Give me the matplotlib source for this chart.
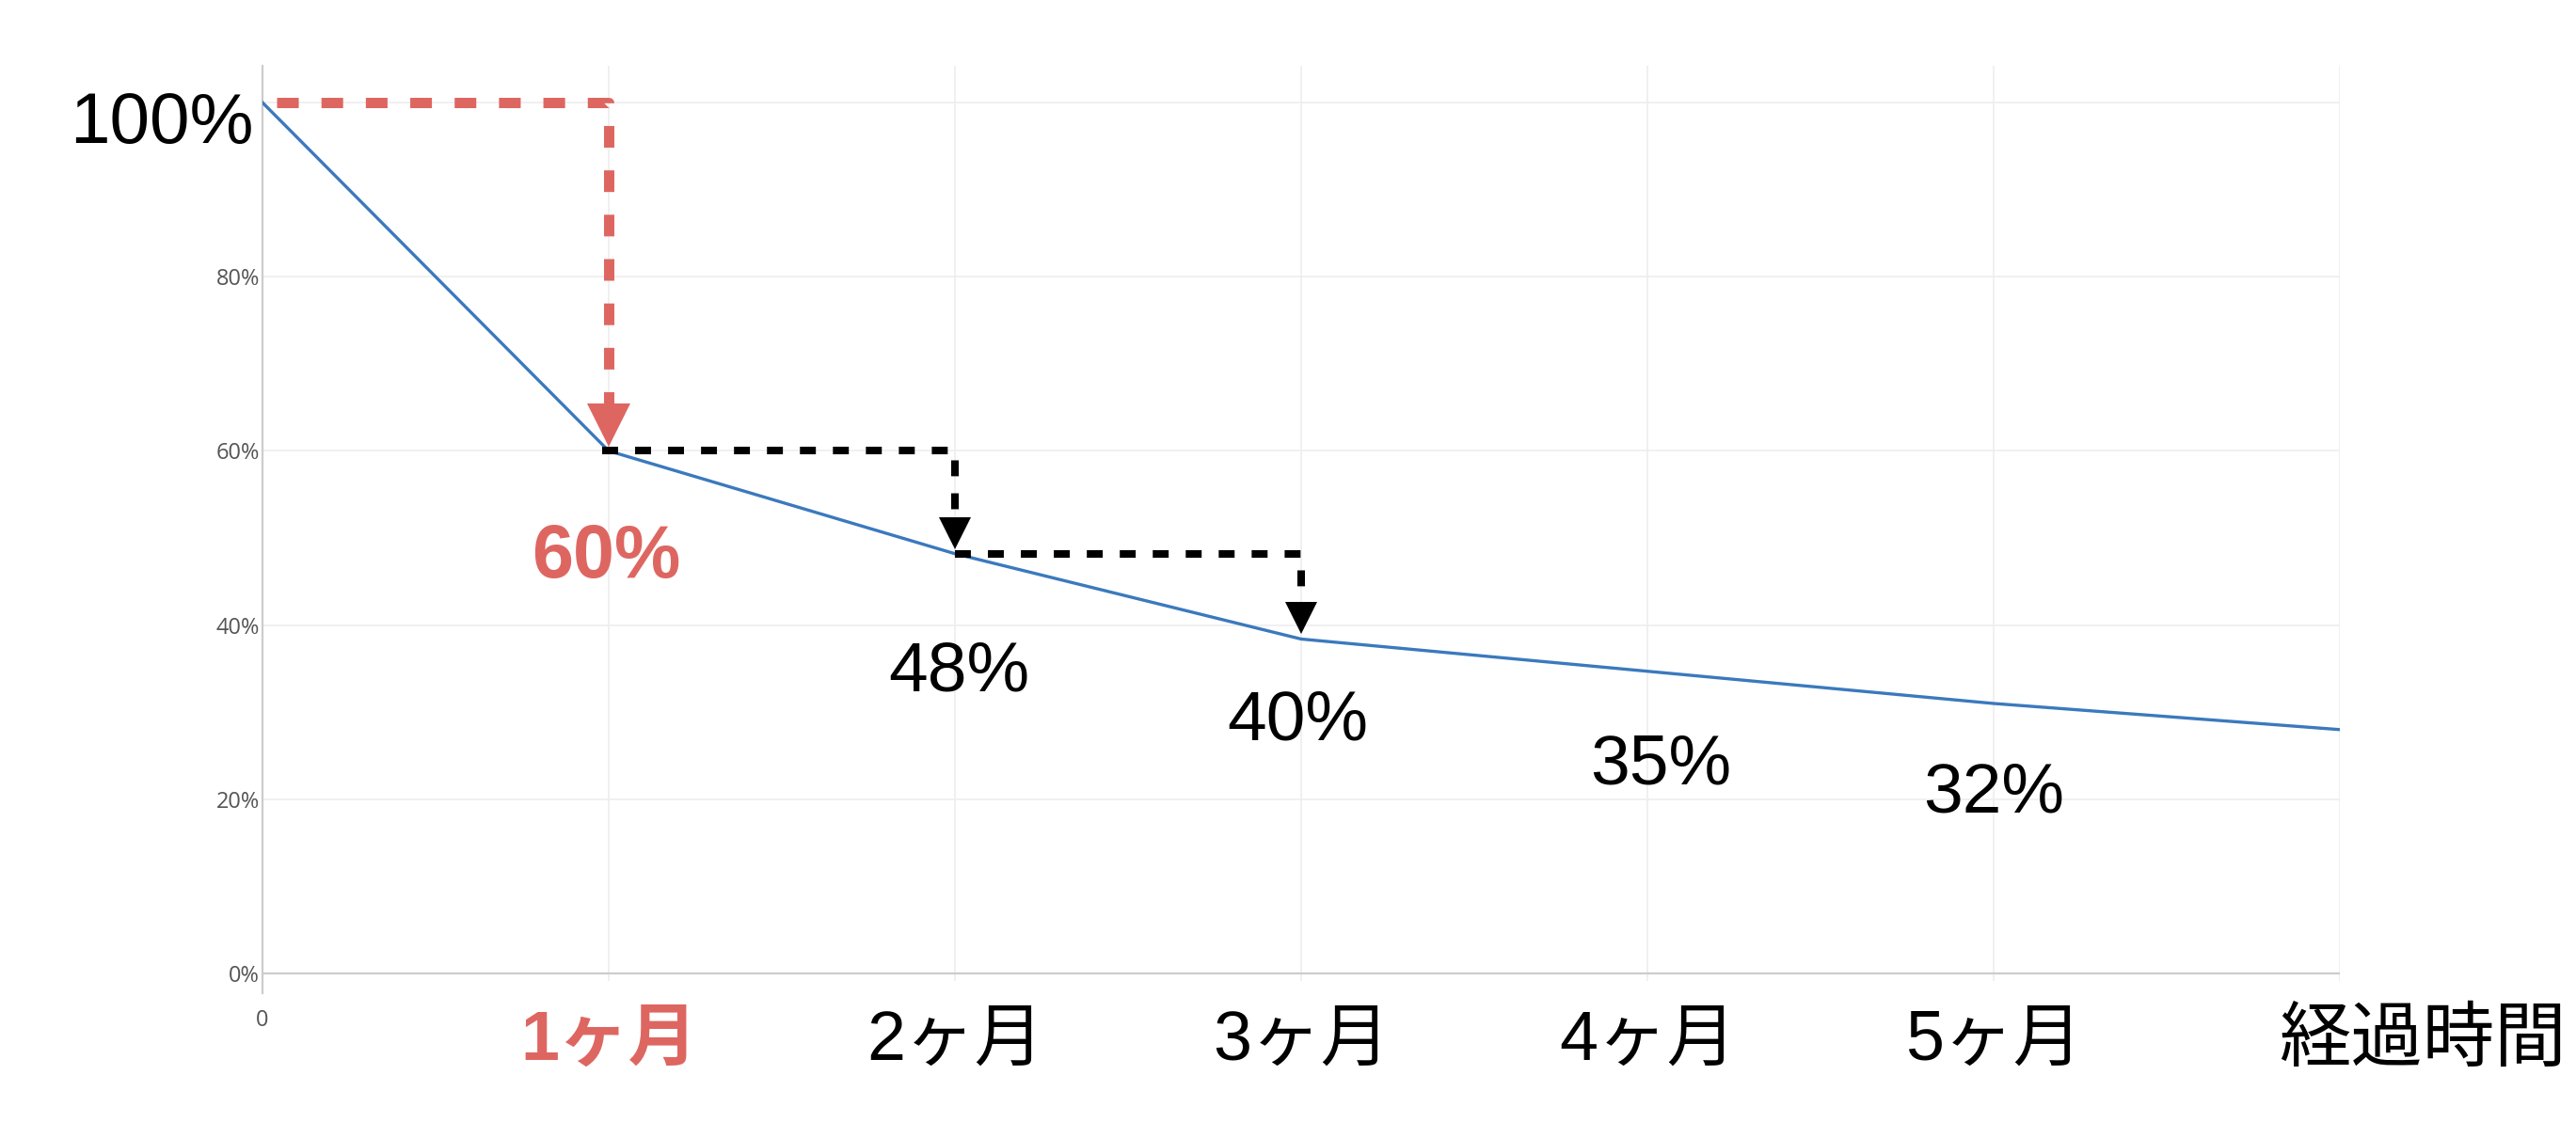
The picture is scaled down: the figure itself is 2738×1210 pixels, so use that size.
import matplotlib
matplotlib.use("Agg")
from matplotlib import pyplot as plt
from matplotlib import transforms

plt.rcParams['font.family'] = ['Liberation Sans', 'Noto Sans CJK JP']

# data
months = [0, 1, 2, 3, 4, 5, 6]
retention = [100, 60, 48.2, 38.4, 34.7, 31.0, 28.0]
x_labels = ['0', '1ヶ月', '2ヶ月', '3ヶ月', '4ヶ月', '5ヶ月', '経過時間']
y_ticks = [0, 20, 40, 60, 80]
y_labels = ['0%', '20%', '40%', '60%', '80%']
value_labels = ['60%', '48%', '40%', '35%', '32%']
value_months = [1, 2, 3, 4, 5]

RED = '#de6661'
BLUE = '#3b79bd'
GRID = '#eeeeee'
AXIS = '#cccccc'

# label offsets from each point (points), style only
label_dx = [-2, 3, -3, 10, 0]
label_dy = [-97, -105, -77, -86, -83]


def main():
  fig = plt.figure(figsize=(27.38, 12.10), dpi=100)
  ax = fig.add_axes([0.1019, 0.127, 0.8064, 0.815])
  ax.set_xlim(0, 6)
  ax.set_ylim(-2.3, 104.2)

  # grid
  for y in y_ticks[1:] + [100]:
    ax.axhline(y, color=GRID, lw=1.2, zorder=0)
  ax.axhline(0, color=AXIS, lw=1.6, zorder=1)
  ax.vlines(months[1:], -0.9, ax.get_ylim()[1], color=GRID, lw=1.2, zorder=0)

  for s in ['top', 'right', 'bottom']:
    ax.spines[s].set_visible(False)
  ax.spines['left'].set_color(AXIS)
  ax.spines['left'].set_linewidth(1.6)

  # curve
  ax.plot(months, retention, color=BLUE, lw=2.4, zorder=3)

  # red dashed guide: 100% -> 1 month with arrow head
  red_head = 33  # marker size, points
  head_data = red_head / 72 * 100 / (0.815 * 1210 / 106.5)
  ax.plot([0.04, months[1], months[1]],
          [retention[0], retention[0], retention[1] + head_data],
          color=RED, lw=7.9, dashes=(2.1, 2.2), solid_capstyle='butt', zorder=4)
  off = transforms.offset_copy(ax.transData, fig, y=red_head / 2, units='points')
  ax.plot([months[1]], [retention[1] + 0.5], marker='v', ms=red_head,
          color=RED, mew=0, transform=off, zorder=5)

  # black dashed guides: 1->2 and 2->3 months
  blk_head = 25
  head_blk = blk_head / 72 * 100 / (0.815 * 1210 / 106.5)
  off_b = transforms.offset_copy(ax.transData, fig, y=blk_head / 2, units='points')
  for i in [1, 2]:
    ax.plot([months[i] - (0.02 if i == 1 else 0), months[i + 1], months[i + 1]],
            [retention[i], retention[i], retention[i + 1] + 0.5 + head_blk],
            color='black', lw=5.8, dashes=(2.1, 2.25), zorder=4)
    ax.plot([months[i + 1]], [retention[i + 1] + 0.5], marker='v', ms=blk_head,
            color='black', mew=0, transform=off_b, zorder=5)

  # value labels
  for k, (m, txt) in enumerate(zip(value_months, value_labels)):
    first = k == 0
    ax.annotate(txt, (m, retention[m]), xytext=(label_dx[k], label_dy[k]),
                textcoords='offset points', ha='center', va='baseline',
                fontsize=57 if first else 54, color=RED if first else 'black',
                fontweight='bold' if first else 'normal', zorder=6)

  # big 100% at the top of the y axis
  ax.annotate('100%', (0, retention[0]), xytext=(-7, -31),
              textcoords='offset points', ha='right', va='baseline',
              fontsize=55, color='black', annotation_clip=False)

  # ticks
  ax.set_yticks(y_ticks, y_labels)
  ax.tick_params(axis='y', length=0, pad=2, labelsize=17, labelcolor='#555555')
  for lab in ax.get_yticklabels():
    lab.set_family('Open Sans')

  ax.set_xticks(months, x_labels)
  ax.tick_params(axis='x', length=0, pad=12, labelsize=53)
  xl = ax.get_xticklabels()
  xl[0].set_fontsize(17)
  xl[0].set_color('#555555')
  xl[0].set_family('Open Sans')
  xl[1].set_color(RED)
  xl[1].set_fontweight('bold')
  xl[6].set_fontsize(55)
  xl[6].set_transform(xl[6].get_transform() +
                      transforms.ScaledTranslation(63 / 72, 0, fig.dpi_scale_trans))

  fig.savefig('out.png', dpi=100, facecolor='white')


if __name__ == "__main__":
  main()
